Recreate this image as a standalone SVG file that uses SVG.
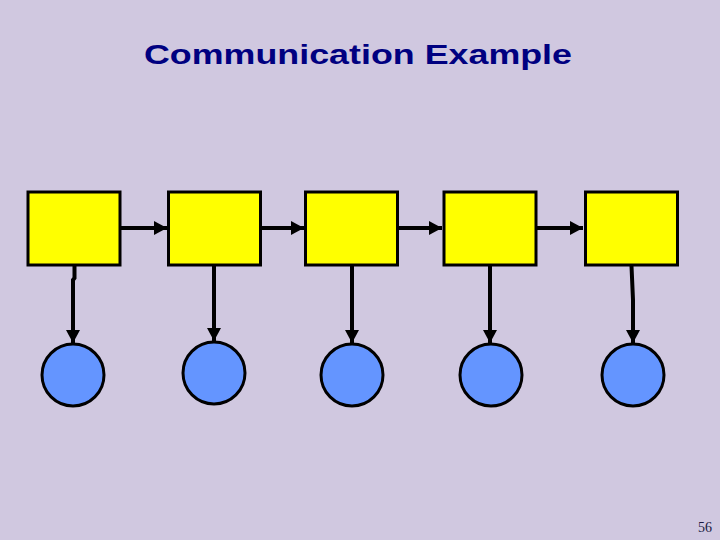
<svg xmlns="http://www.w3.org/2000/svg" width="720" height="540" viewBox="0 0 720 540">
<style>
.box{fill:#FFFF00;stroke:#000;stroke-width:3}
.ball{fill:#6495FF;stroke:#000;stroke-width:3}
.conn{stroke:#000;stroke-width:4;fill:none}
.title{font-family:"Liberation Sans",Arial,sans-serif;font-weight:bold;font-size:28px;fill:#000080}
.num{font-family:"Liberation Serif","Times New Roman",serif;font-size:14px;fill:#1a1a40}
</style>
<defs>
<marker id="ah" markerUnits="userSpaceOnUse" markerWidth="13" markerHeight="14" refX="13" refY="7" orient="auto">
<path d="M0,0 L13,7 L0,14 Z" fill="#000"/>
</marker>
</defs>
<rect width="720" height="540" fill="#D0C8E0"/>
<text class="title" x="358" y="64" text-anchor="middle" textLength="428" lengthAdjust="spacingAndGlyphs">Communication Example</text>
<g id="connectors">
<line class="conn" x1="121" y1="228" x2="167" y2="228" marker-end="url(#ah)"/>
<line class="conn" x1="261" y1="228" x2="304" y2="228" marker-end="url(#ah)"/>
<line class="conn" x1="398" y1="228" x2="442" y2="228" marker-end="url(#ah)"/>
<line class="conn" x1="537" y1="228" x2="583" y2="228" marker-end="url(#ah)"/>
<path class="conn" d="M74.5,266 L74.5,278 L73,280 L73,343" marker-end="url(#ah)"/>
<line class="conn" x1="214" y1="266" x2="214" y2="341" marker-end="url(#ah)"/>
<line class="conn" x1="352" y1="266" x2="352" y2="343" marker-end="url(#ah)"/>
<line class="conn" x1="490" y1="266" x2="490" y2="343" marker-end="url(#ah)"/>
<path class="conn" d="M631.5,266 L633,300 L633,343" marker-end="url(#ah)"/>
</g>
<g id="p1"><rect class="box" x="28" y="192" width="92" height="73"/></g>
<g id="p2"><rect class="box" x="168.5" y="192" width="92" height="73"/></g>
<g id="p3"><rect class="box" x="305.5" y="192" width="92" height="73"/></g>
<g id="p4"><rect class="box" x="444" y="192" width="92" height="73"/></g>
<g id="p5"><rect class="box" x="585.5" y="192" width="92" height="73"/></g>
<g id="c1"><circle class="ball" cx="73" cy="375" r="31"/></g>
<g id="c2"><circle class="ball" cx="214" cy="373" r="31"/></g>
<g id="c3"><circle class="ball" cx="352" cy="375" r="31"/></g>
<g id="c4"><circle class="ball" cx="491" cy="375" r="31"/></g>
<g id="c5"><circle class="ball" cx="633" cy="375" r="31"/></g>
<text class="num" x="712" y="532" text-anchor="end">56</text>
</svg>
